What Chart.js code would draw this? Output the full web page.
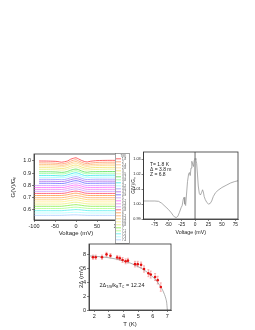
<!DOCTYPE html>
<html>
<head>
<meta charset="utf-8">
<script src="https://cdn.jsdelivr.net/npm/chart.js"></script>
<style>
html, body { margin: 0; padding: 0; background: #fff; width: 255px; height: 330px; overflow: hidden; }
canvas { position: absolute; }
</style>
</head>
<body>
<canvas id="spectra" width="131" height="108" style="left:0;top:140px"></canvas>
<canvas id="single" width="114" height="108" style="left:131px;top:140px"></canvas>
<canvas id="gap" width="120" height="94" style="left:60px;top:236px"></canvas>
<script>

// ---- panel 1 : G(V)/GN spectra, shifted ----
const voltages = [-100, -88, -65, -45, -35, -27, -20, -13, -6, 0, 6, 13, 20, 27, 35, 50, 75, 100];

const temps = ['1.8','2','2.4','2.8','3','3.5','3.7','3.8','4','4.2','4.5','4.7','4.9','5','5.2','5.4',
               '5.6','5.8','6','6.2','6.4','6.6','6.8','7','7.1','7.2','7.3','7.4'];

const offsets = [1.000, 0.985, 0.972, 0.960, 0.945, 0.930, 0.912, 0.898, 0.882, 0.866, 0.850, 0.834, 0.818, 0.800,
                 0.784, 0.768, 0.752, 0.735, 0.718, 0.700, 0.683, 0.666, 0.648, 0.630, 0.612, 0.594, 0.575, 0.556];

// deviation from each curve's baseline, in units of 0.001
const curves = [
    [null,0,-1,-4,-10,-6,0,14,22,26,17,5,-4,-8,-2,3,5,5],
    [null,0,-1,-4,-9,-5,1,13,21,25,16,5,-3,-7,-2,3,5,5],
    [null,0,-1,-3,-8,-5,1,12,20,24,16,5,-3,-6,-1,2,4,4],
    [null,0,-1,-3,-7,-4,2,12,19,23,16,6,-2,-5,-1,2,4,4],
    [null,0,0,-3,-6,-4,2,12,19,22,16,6,-2,-5,-1,2,3,3],
    [null,0,0,-2,-5,-3,3,12,19,22,16,7,-1,-4,-1,1,3,3],
    [null,0,0,-2,-5,-3,3,12,19,22,17,7,-1,-4,0,1,2,2],
    [null,0,0,-2,-4,-2,4,12,19,22,17,8,0,-3,0,1,2,2],
    [null,0,0,-2,-4,-2,4,12,19,22,17,8,0,-3,0,1,2,2],
    [null,0,0,-1,-3,-1,5,13,19,22,18,9,1,-2,0,1,2,2],
    [null,0,0,-1,-3,-1,5,13,19,22,18,9,1,-2,0,1,1,1],
    [null,0,0,-1,-2,0,6,13,19,22,18,10,2,-1,0,1,1,1],
    [null,0,0,-1,-2,0,6,13,19,21,18,10,2,-1,0,0,1,1],
    [0,0,0,-1,-2,1,7,13,19,21,18,11,3,-1,0,0,1,1],
    [0,0,0,0,-1,1,7,13,18,20,17,11,3,0,0,0,1,1],
    [0,0,0,0,-1,2,7,13,18,20,17,11,4,0,0,0,0,0],
    [0,0,0,0,-1,2,7,13,18,20,17,11,4,0,0,0,0,0],
    [0,0,0,0,0,2,7,13,17,19,16,11,4,1,0,0,0,0],
    [0,0,0,0,0,3,7,12,17,19,16,11,5,1,0,0,0,0],
    [0,0,0,0,0,3,7,12,16,18,15,11,5,1,0,0,0,0],
    [0,0,0,0,0,3,7,12,16,18,15,10,5,1,0,0,0,0],
    [0,0,0,0,0,3,7,11,15,17,14,10,5,2,0,0,0,0],
    [0,0,0,0,0,3,6,10,14,15,13,9,5,2,0,0,0,0],
    [0,0,0,0,0,3,6,9,12,13,11,8,4,2,0,0,0,0],
    [0,0,0,0,0,2,5,8,10,11,9,7,4,1,0,0,0,0],
    [0,0,0,0,0,2,4,6,8,9,8,6,3,1,0,0,0,0],
    [0,0,0,0,0,1,3,4,6,6,5,4,2,1,0,0,0,0],
    [0,0,0,0,0,1,2,3,4,4,3,2,1,0,0,0,0,0]
];

const colors = ['#ff4040','#ff9966','#ffbb77','#ffd98a','#f2e060','#eeee99','#55e055','#99ff99','#33e8e8','#99ffff',
                '#9999ff','#aa66ee','#6666ff','#cc99ff','#ff66ff','#ee88ee','#cc99ff','#ff4466','#ff9944','#ffaa66',
                '#ffcc66','#ffee88','#eeee77','#88ee44','#aaff88','#55eeee','#aaffff','#aaccff'];

const yTicks1 = [0.6, 0.7, 0.8, 0.9, 1.0];
const xTicks1 = [-100, -50, 0, 50, 100];

// ---- panel 2 : single spectrum at 1.8 K ----
const v2 = [-96,-85,-75,-68,-62,-56,-50,-45,-41,-38,-35,-32,-29,-26,-24,-22,-20.5,-19,-17.5,-16,-14,-12,-10.5,-9,
            -7.5,-6,-4.5,-3,-1.5,0,1.5,3,4.5,6,8,10,12,14,15.5,17,19,22,25,28,31,34,38,43,50,58,66,74,80];
const g2 = [1.0020,1.0020,1.0020,1.0018,1.0005,0.9985,0.9965,0.9945,0.9925,0.9913,0.9910,0.9918,0.9945,0.9975,
            0.9990,1.0030,1.0045,1.0000,0.9990,1.0060,1.0150,1.0200,1.0210,1.0190,1.0240,1.0285,1.0265,1.0250,
            1.0290,1.0305,1.0295,1.0270,1.0200,1.0120,1.0070,1.0060,1.0075,1.0095,1.0080,1.0050,1.0030,1.0010,
            1.0000,1.0003,1.0020,1.0050,1.0075,1.0092,1.0110,1.0125,1.0140,1.0150,1.0155];
const yTicks2 = [0.99, 1.00, 1.01, 1.02, 1.03];
const xTicks2 = [-75, -50, -25, 0, 25, 50, 75];
const fitText = ['T= 1.8 K', 'Δ = 3.8 m', 'Z = 6.8'];

// ---- panel 3 : 2Δ vs T ----
const tPoints = [1.9, 2.09, 2.52, 2.83, 3.1, 3.56, 3.74, 3.93, 4.14, 4.3, 4.78, 4.97, 5.2, 5.4, 5.7, 5.86, 6.16, 6.34, 6.55];
const gapValues = [7.6, 7.6, 7.6, 8.0, 7.8, 7.55, 7.45, 7.2, 7.0, 7.1, 6.6, 6.6, 6.5, 5.9, 5.3, 5.1, 4.75, 4.3, 3.3];
const gapErrors = [0.3, 0.3, 0.3, 0.3, 0.3, 0.3, 0.3, 0.35, 0.35, 0.35, 0.4, 0.4, 0.4, 0.45, 0.5, 0.5, 0.5, 0.55, 0.6];
const fitT = [1.63, 2, 2.5, 3, 3.5, 4, 4.5, 5, 5.5, 6, 6.3, 6.6, 6.8, 6.9, 6.95, 7.0];
const fitGap = [7.78, 7.74, 7.65, 7.52, 7.33, 7.07, 6.72, 6.24, 5.62, 4.77, 4.08, 3.15, 2.26, 1.61, 1.14, 0];
const yTicks3 = [0, 2, 4, 6, 8];
const xTicks3 = [2, 3, 4, 5, 6, 7];


Chart.defaults.font.family = "'Liberation Sans', Arial, sans-serif";
Chart.defaults.color = '#222';

const framePlugin = {
    id: 'frame',
    afterDraw(chart){
        const a = chart.chartArea, c = chart.ctx;
        c.save();
        c.strokeStyle = '#333';
        c.lineWidth = 0.8;
        c.strokeRect(a.left, a.top, a.right - a.left, a.bottom - a.top);
        c.restore();
    }
};

// fixed axis box so the plot areas land where they are in the figure
function axis(min, max, ticks, fmt, title, size, fontSize, titlePad, tickPad, titleSize){
    return {
        type: 'linear', min: min, max: max,
        afterBuildTicks: s => { s.ticks = ticks.map(v => ({value: v})); },
        afterFit: s => { if (s.isHorizontal()) s.height = size; else s.width = size; },
        grid: { drawOnChartArea: false, tickLength: 2, color: '#333', lineWidth: 0.6 },
        border: { color: '#333', width: 0.8 },
        ticks: { font: { size: fontSize }, padding: tickPad, maxRotation: 0, autoSkip: false, callback: fmt },
        title: { display: true, text: title, font: { size: titleSize || fontSize + 0.5 }, padding: titlePad }
    };
}

// panel 1
const legendPlugin = {
    id: 'tlegend',
    afterDraw(chart){
        const c = chart.ctx;
        c.save();
        c.fillStyle = '#fff';
        c.fillRect(115, 13, 15, 91);
        c.strokeStyle = '#666';
        c.lineWidth = 0.6;
        c.strokeRect(115.5, 13.5, 14, 90);
        c.font = "3px 'Liberation Sans'";
        c.fillStyle = '#444';
        c.textBaseline = 'middle';
        c.fillText('T(K)', 120.5, 15.8);
        temps.forEach((t, i) => {
            const y = 18.8 + i * 3.0;
            c.strokeStyle = colors[i];
            c.lineWidth = 0.8;
            c.beginPath(); c.moveTo(116, y); c.lineTo(121, y); c.stroke();
            c.fillText(t, 122, y);
        });
        c.restore();
    }
};

new Chart(document.getElementById('spectra'), {
    type: 'line',
    data: {
        datasets: curves.map((dev, i) => ({
            label: temps[i] + ' K',
            data: voltages.map((v, j) => ({x: v, y: dev[j] == null ? null : offsets[i] + dev[j] / 1000}))
                          .filter(p => p.y != null),
            borderColor: colors[i],
            borderWidth: 0.8,
            pointRadius: 0,
            tension: 0.25
        }))
    },
    options: {
        responsive: false, animation: false,
        layout: { padding: { left: 0, top: 14, right: 13, bottom: 11 } },
        plugins: { legend: { display: false }, tooltip: { enabled: false } },
        scales: {
            x: axis(-100, 100, xTicks1, v => v, 'Voltage (mV)', 17, 5.5, {top: 0, bottom: 0}, 1),
            y: axis(0.518, 1.057, yTicks1, v => v.toFixed(1), 'G(V)/G\u2099', 34, 5.5, {top: 10, bottom: 0}, 1)
        }
    },
    plugins: [framePlugin, legendPlugin]
});

// panel 2
const notePlugin = {
    id: 'notes',
    afterDatasetsDraw(chart){
        const c = chart.ctx, x = chart.scales.x, y = chart.scales.y;
        c.save();
        c.font = "5px 'Liberation Sans'";
        c.fillStyle = '#222';
        c.textBaseline = 'middle';
        const rows = [1.0265, 1.0230, 1.0195];
        fitText.forEach((t, i) => c.fillText(t, x.getPixelForValue(-84), y.getPixelForValue(rows[i])));
        c.restore();
    }
};

new Chart(document.getElementById('single'), {
    type: 'line',
    data: {
        datasets: [{
            data: v2.map((v, i) => ({x: v, y: g2[i]})),
            borderColor: '#8a8a8a',
            borderWidth: 0.7,
            pointRadius: 0,
            tension: 0
        }, {
            // V = 0 marker
            data: [{x: 0, y: 0.99}, {x: 0, y: 1.0347}],
            borderColor: '#444',
            borderWidth: 0.8,
            pointRadius: 0
        }]
    },
    options: {
        responsive: false, animation: false,
        layout: { padding: { left: 0, top: 12, right: 7, bottom: 12 } },
        plugins: { legend: { display: false }, tooltip: { enabled: false } },
        scales: {
            x: axis(-96, 80, xTicks2, v => v, 'Voltage (mV)', 17, 4.8, {top: 0, bottom: 0}, 1, 5.3),
            y: axis(0.99, 1.0347, yTicks2, v => v.toFixed(2), 'G(V)/G\u2099', 12.5, 3.8, {top: 0, bottom: 0}, 0.8, 4.6)
        }
    },
    plugins: [framePlugin, notePlugin]
});

// panel 3
const errorBars = {
    id: 'errbars',
    beforeDatasetsDraw(chart){
        const c = chart.ctx, x = chart.scales.x, y = chart.scales.y;
        c.save();
        c.strokeStyle = '#f39090';
        c.lineWidth = 0.7;
        tPoints.forEach((t, i) => {
            const px = x.getPixelForValue(t);
            const y1 = y.getPixelForValue(gapValues[i] - gapErrors[i]);
            const y2 = y.getPixelForValue(gapValues[i] + gapErrors[i]);
            c.beginPath();
            c.moveTo(px, y1); c.lineTo(px, y2);
            c.moveTo(px - 1, y1); c.lineTo(px + 1, y1);
            c.moveTo(px - 1, y2); c.lineTo(px + 1, y2);
            c.stroke();
        });
        c.restore();
    },
    afterDatasetsDraw(chart){
        const c = chart.ctx, x = chart.scales.x, y = chart.scales.y;
        const px = x.getPixelForValue(2.35), py = y.getPixelForValue(3.5);
        c.save();
        c.fillStyle = '#222';
        c.textBaseline = 'middle';
        let cx = px;
        const parts = [['2Δ', 0], ['T/B', 1], ['/k', 0], ['B', 1], ['T', 0], ['C', 1], [' = 12.24', 0]];
        parts.forEach(p => {
            c.font = (p[1] ? '3.6px' : '5.5px') + " 'Liberation Sans'";
            c.fillText(p[0], cx, py + (p[1] ? 1.5 : 0));
            cx += c.measureText(p[0]).width;
        });
        c.restore();
    }
};

new Chart(document.getElementById('gap'), {
    type: 'line',
    data: {
        datasets: [{
            data: tPoints.map((t, i) => ({x: t, y: gapValues[i]})),
            showLine: false,
            pointRadius: 1.3,
            pointBackgroundColor: '#e51010',
            pointBorderColor: '#e51010',
            pointBorderWidth: 0
        }, {
            data: fitT.map((t, i) => ({x: t, y: fitGap[i]})),
            borderColor: '#9a9a9a',
            borderWidth: 0.8,
            pointRadius: 0,
            cubicInterpolationMode: 'monotone'
        }]
    },
    options: {
        responsive: false, animation: false,
        layout: { padding: { left: 0, top: 8, right: 9, bottom: 2 } },
        plugins: { legend: { display: false }, tooltip: { enabled: false } },
        scales: {
            x: axis(1.63, 7.25, xTicks3, v => v, 'T (K)', 18, 5.5, {top: 0, bottom: 0.5}, 1.2),
            y: axis(0, 9.5, yTicks3, v => v, '2Δ (mV)', 29, 5.5, {top: 18, bottom: 0}, 1)
        }
    },
    plugins: [framePlugin, errorBars]
});

</script>
</body>
</html>
